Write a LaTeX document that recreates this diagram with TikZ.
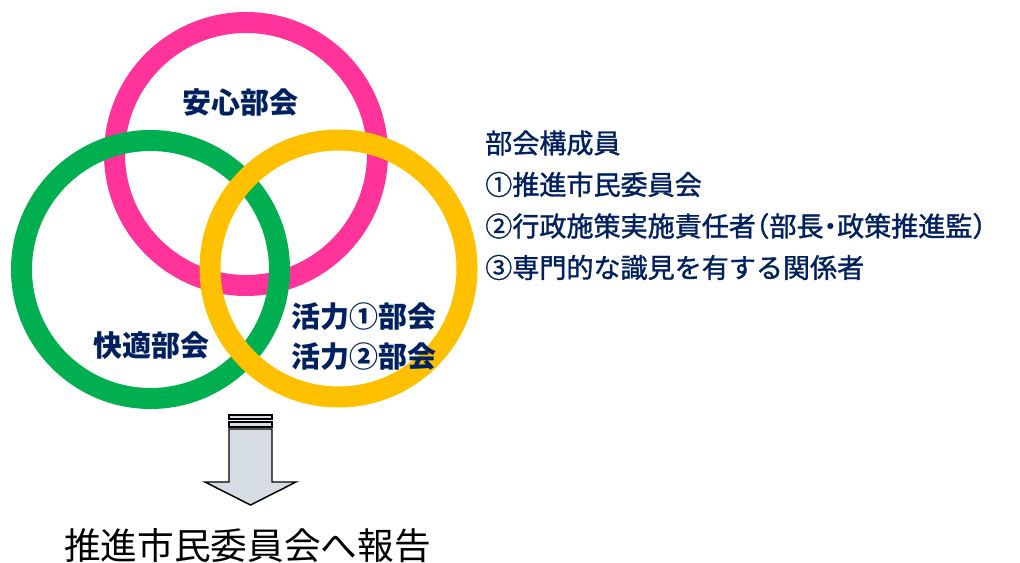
\documentclass[tikz,border=0pt]{standalone}
\usepackage{fontspec}
\newfontfamily\jp{Noto Sans CJK JP}
\newfontfamily\jpmed{Noto Sans CJK JP}[FakeBold=1.3]
\definecolor{ringpink}{RGB}{255,51,153}
\definecolor{ringgreen}{RGB}{0,176,80}
\definecolor{ringyellow}{RGB}{255,192,0}
\definecolor{navy}{RGB}{0,32,96}
\definecolor{arrowfill}{RGB}{214,220,228}
\tikzset{
  ring/.style={line width=15.75pt},
  ringlabel/.style={text=navy, font=\jp\bfseries\fontsize{21.75}{30}\selectfont, inner sep=0pt, align=center},
  listline/.style={text=navy, font=\jpmed\fontsize{20.3}{24}\selectfont, inner sep=0pt, anchor=west},
  report/.style={text=black, font=\jp\fontsize{27.5}{32}\selectfont, inner sep=0pt},
  bigarrow/.style={draw=black, line width=1.1pt, fill=arrowfill, line join=miter}
}
\newcommand{\hwl}[1]{\makebox[0.5em][r]{#1}}
\newcommand{\hwr}[1]{\makebox[0.5em][l]{#1}}
\newcommand{\hwc}[1]{\makebox[0.5em][c]{#1}}
\begin{document}
\begin{tikzpicture}[x=0.75pt,y=-0.75pt]
\useasboundingbox (0,0) rectangle (1020,563);
% rings
\draw[ring, ringpink] (246,154) circle[radius=131.5];
\draw[ring, ringgreen] (150.5,269.5) circle[radius=129];
\draw[ring, ringyellow] (338.5,268.5) circle[radius=128.5];
% ring labels
\node[ringlabel] (anshin) at (240,102) {安心部会};
\node[ringlabel] (kaiteki) at (151,346) {快適部会};
\node[ringlabel] (katsuryoku) at (364,337) {活力①部会\\活力②部会};
% member list
\node[listline] (l0) at (485,143) {部会構成員};
\node[listline] (l1) at (485,184.5) {①推進市民委員会};
\node[listline] (l2) at (485,226) {②行政施策実施責任者\hwl{（}部長\hwc{・}政策推進監\hwr{）}};
\node[listline] (l3) at (485,267.5) {③専門的な識見を有する関係者};
% arrow
\draw[bigarrow] (229,415) rectangle (272,419);
\draw[bigarrow] (229,422) rectangle (272,427);
\draw[bigarrow] (229,429) -- (272,429) -- (272,482) -- (296,482) -- (250.5,505)
  -- (205,482) -- (229,482) -- cycle;
% report
\node[report] (rep) at (247.5,546) {推進市民委員会へ報告};
\end{tikzpicture}
\end{document}
